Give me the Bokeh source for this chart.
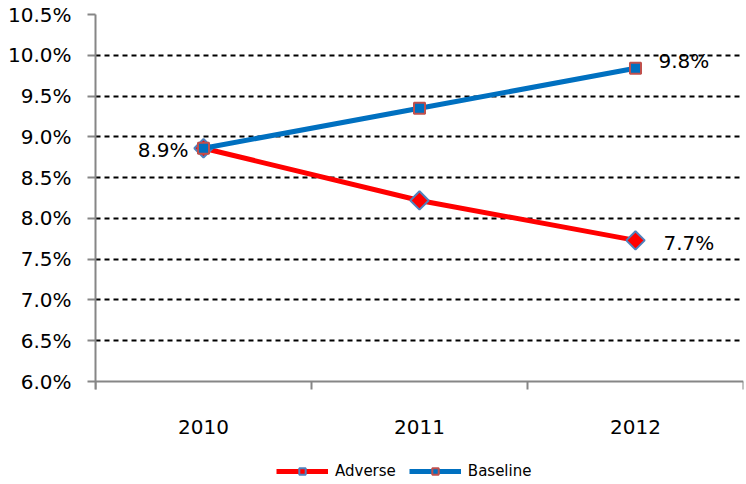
import math
from bokeh.plotting import figure
from bokeh.models import (Range1d, FixedTicker, CustomJSTickFormatter, Legend, LegendItem)
from bokeh.core.properties import value
from bokeh.embed import file_html
from bokeh.resources import INLINE

# ---- data ----
years = ["2010", "2011", "2012"]
adverse = [8.86, 8.22, 7.73]
baseline = [8.86, 9.35, 9.84]
y_ticks = [6.0, 6.5, 7.0, 7.5, 8.0, 8.5, 9.0, 9.5, 10.0, 10.5]

xs = [i + 0.5 for i in range(len(years))]

FONT = "DejaVu Sans"
RED = "#FF0000"
BLUE = "#0070C0"
AXIS_GRAY = "#868686"

# layout: plot box from y=14 (10.5%) to y=381 (6.0%); frame extends to the
# bottom of the figure so that the legend can sit below the x axis
W, H = 746, 484
TOP, AXIS_Y = 14, 381
px_per_unit = (AXIS_Y - TOP) / (y_ticks[-1] - y_ticks[0])
y_start = y_ticks[0] - (H - AXIS_Y) / px_per_unit

p = figure(width=W, height=H, output_backend="svg", toolbar_location=None,
           x_range=Range1d(0, 3), y_range=Range1d(y_start, y_ticks[-1]),
           min_border_left=95, min_border_top=TOP, min_border_right=3,
           min_border_bottom=0)
p.outline_line_color = None
p.background_fill_color = "white"
p.border_fill_color = "white"

# grid
p.xgrid.visible = False
p.ygrid.ticker = FixedTicker(ticks=y_ticks[1:])
p.ygrid.grid_line_color = "black"
p.ygrid.grid_line_dash = "5 4"
p.ygrid.grid_line_width = 2

# y axis
p.yaxis.ticker = FixedTicker(ticks=y_ticks)
p.yaxis.bounds = (y_ticks[0] - 8 / px_per_unit, y_ticks[-1])
p.yaxis.formatter = CustomJSTickFormatter(code="return tick.toFixed(1) + '%';")
p.yaxis.axis_line_color = AXIS_GRAY
p.yaxis.axis_line_width = 2
p.yaxis.major_tick_line_color = AXIS_GRAY
p.yaxis.major_tick_line_width = 2
p.yaxis.major_tick_out = 8
p.yaxis.major_tick_in = 0
p.yaxis.minor_tick_line_color = None
p.yaxis.major_label_text_font = FONT
p.yaxis.major_label_text_font_size = "20px"
p.yaxis.major_label_text_color = "black"
p.yaxis.major_label_standoff = 16

# x axis (fixed at 6.0%)
p.xaxis.fixed_location = y_ticks[0]
p.xaxis.ticker = FixedTicker(ticks=xs, minor_ticks=[float(i) for i in range(len(years) + 1)])
p.xaxis.formatter = CustomJSTickFormatter(args=dict(labels=years),
                                          code="return labels[Math.floor(tick)];")
p.xaxis.axis_line_color = AXIS_GRAY
p.xaxis.axis_line_width = 2
p.xaxis.major_tick_out = 0
p.xaxis.major_tick_in = 0
p.xaxis.minor_tick_line_color = AXIS_GRAY
p.xaxis.minor_tick_line_width = 2
p.xaxis.minor_tick_out = 8
p.xaxis.minor_tick_in = 0
p.xaxis.major_label_text_font = FONT
p.xaxis.major_label_text_font_size = "20px"
p.xaxis.major_label_text_color = "black"
p.xaxis.major_label_standoff = 30

# series
l_adv = p.line(xs, adverse, line_color=RED, line_width=5)
m_adv = p.scatter(xs, adverse, marker="square", angle=math.pi / 4, size=13,
                  fill_color=RED, line_color="#4F81BD", line_width=2)
l_base = p.line(xs, baseline, line_color=BLUE, line_width=5)
m_base = p.scatter(xs, baseline, marker="square", size=11,
                   fill_color=BLUE, line_color="#C0504D", line_width=2)

# data labels
def lbl(i, vals, dx, dy, align):
    p.text([xs[i]], [vals[i]], text=[f"{vals[i]:.1f}%"], x_offset=dx, y_offset=dy,
           text_align=align, text_baseline="middle", text_font=value(FONT),
           text_font_size="20px", text_color="black")

lbl(0, baseline, -15, 2, "right")
lbl(2, baseline, 23, -7, "left")
lbl(2, adverse, 28, 3, "left")

legend = Legend(items=[LegendItem(label="Adverse", renderers=[l_adv, m_adv]),
                       LegendItem(label="Baseline", renderers=[l_base, m_base])],
                orientation="horizontal", location=(181, 4),
                label_text_font=FONT, label_text_font_size="15px",
                label_text_color="black",
                glyph_width=52, glyph_height=16, label_height=16,
                label_standoff=7, spacing=13,
                border_line_color=None, background_fill_alpha=0,
                padding=2, margin=0)
p.add_layout(legend, "center")

open("out.html", "w").write(file_html(p, INLINE))
